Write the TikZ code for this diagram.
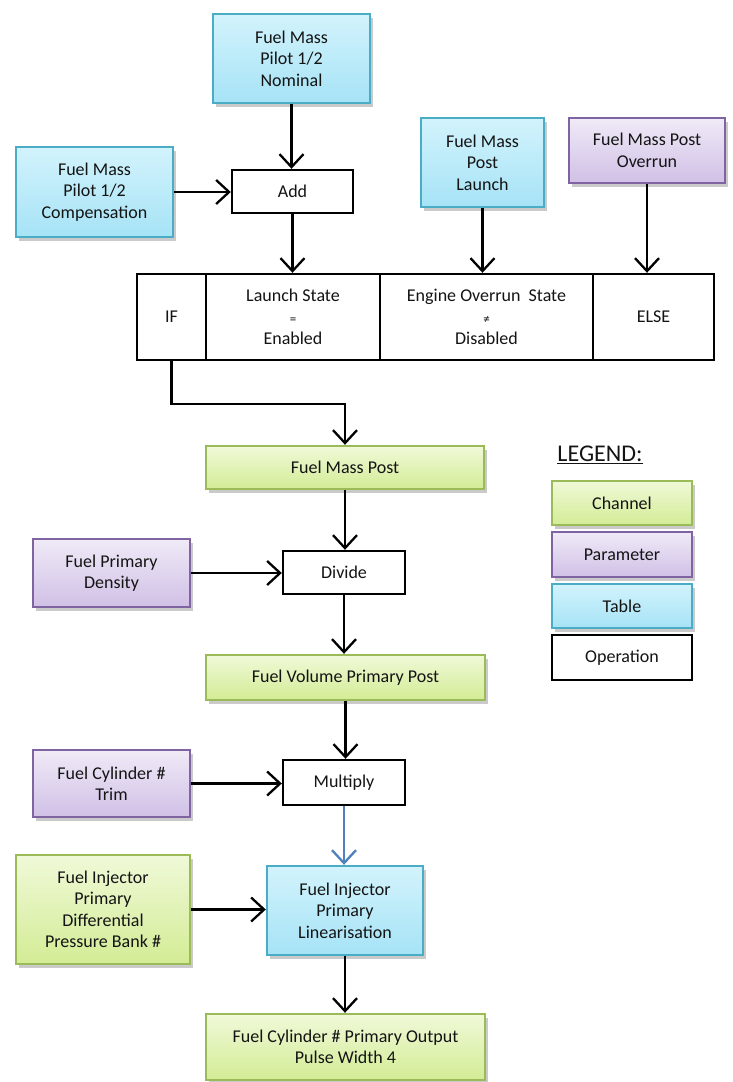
\documentclass[tikz,border=0pt]{standalone}
\usepackage{fontspec}
\setmainfont{Carlito}
\usetikzlibrary{arrows.meta,shadows}
\definecolor{tblb}{HTML}{4BACC6}
\definecolor{tbltop}{HTML}{D2F3FC}
\definecolor{tblbot}{HTML}{A6E3F6}
\definecolor{parb}{HTML}{8064A2}
\definecolor{partop}{HTML}{F0EAF7}
\definecolor{parbot}{HTML}{D0C0E6}
\definecolor{chb}{HTML}{9BBB59}
\definecolor{chtop}{HTML}{F0F9D8}
\definecolor{chbot}{HTML}{D3EC95}
\definecolor{txt}{HTML}{141414}
\definecolor{bluearr}{HTML}{4F81BD}
\tikzset{
  base/.style={align=center, inner sep=0pt, text=txt, font=\fontsize{18}{21.5}\selectfont},
  sz/.style 2 args={minimum width=#1pt, minimum height=#2pt},
  shad/.style={drop shadow={shadow xshift=2.5pt, shadow yshift=-3.5pt, opacity=0.35, fill=black!60}},
  tblbox/.style={base, shad, draw=tblb, line width=2.4pt, top color=tbltop, bottom color=tblbot},
  parbox/.style={base, shad, draw=parb, line width=2.4pt, top color=partop, bottom color=parbot},
  chbox/.style={base, shad, draw=chb, line width=2.4pt, top color=chtop, bottom color=chbot},
  opbox/.style={base, draw=black, line width=2.4pt, fill=white},
  cell/.style={base, draw=black, line width=2.4pt, fill=white},
  arr/.style={line width=2.3pt, -{Straight Barb[length=13pt,width=24pt,line width=2.3pt]}},
}
\newcommand{\smallsym}[1]{{\fontsize{13}{21.5}\selectfont #1}}
\begin{document}
\begin{tikzpicture}[x=1pt,y=-1pt]
\useasboundingbox (0,0) rectangle (733,1082);
% top inputs
\node[tblbox, sz={157}{89}] (nom) at (291.5,58.5) {Fuel Mass\\Pilot 1/2\\Nominal};
\node[tblbox, sz={157}{90}] (comp) at (94.5,192) {Fuel Mass\\Pilot 1/2\\Compensation};
\node[opbox, sz={121}{43}] (add) at (292.5,191.5) {Add};
\node[tblbox, sz={123}{89}] (launch) at (482.5,162.5) {Fuel Mass\\Post\\Launch};
\node[parbox, sz={156}{65}] (ovr) at (647,150.5) {Fuel Mass Post\\Overrun};
% condition table
\node[cell, sz={69}{86}] (ifc) at (171.5,317) {IF};
\node[cell, sz={174}{86}] (lc) at (293,317) {Launch State\\\smallsym{=}\\Enabled};
\node[cell, sz={213}{86}] (oc) at (486.5,317) {Engine Overrun\ \ State\\\smallsym{≠}\\Disabled};
\node[cell, sz={121}{86}] (ec) at (653.5,317) {ELSE};
% main chain
\node[chbox, sz={278}{43}] (fmp) at (345,467.5) {Fuel Mass Post};
\node[parbox, sz={157}{68}] (dens) at (111.5,573) {Fuel Primary\\Density};
\node[opbox, sz={122}{43}] (div) at (344,572.5) {Divide};
\node[chbox, sz={279}{45}] (fvpp) at (345.5,677.5) {Fuel Volume Primary Post};
\node[parbox, sz={157}{67}] (trim) at (111.5,783.5) {Fuel Cylinder \#\\Trim};
\node[opbox, sz={122}{45}] (mul) at (344,782.5) {Multiply};
\node[chbox, sz={174}{109}] (dp) at (103,909.5) {Fuel Injector\\Primary\\Differential\\Pressure Bank \#};
\node[tblbox, sz={156}{89}] (lin) at (345,910.5) {Fuel Injector\\Primary\\Linearisation};
\node[chbox, sz={279}{66}] (out) at (345.5,1047) {Fuel Cylinder \# Primary Output\\Pulse Width 4};
% legend
\node[base, font=\fontsize{24}{28}\selectfont] (lgt) at (600,455) {\underline{LEGEND:}};
\node[chbox, sz={140}{44}] (lg1) at (622,503) {Channel};
\node[parbox, sz={140}{45}] (lg2) at (622,554.5) {Parameter};
\node[tblbox, sz={140}{44}] (lg3) at (622,606) {Table};
\node[opbox, sz={140}{45}] (lg4) at (622,657.5) {Operation};
% connectors
\draw[arr] (nom.south) -- (nom.south |- add.north);
\draw[arr] (comp.east) -- (comp.east -| add.west);
\draw[arr] (add.south) -- (add.south |- lc.north);
\draw[arr] (launch.south) -- (launch.south |- oc.north);
\draw[arr] (ovr.south) -- (ovr.south |- ec.north);
\coordinate (ifout) at (ifc.south);
\draw[arr] (ifout) -- ++(0,43) -| (fmp.north);
\draw[arr] (fmp.south) -- (fmp.south |- div.north);
\draw[arr] (dens.east) -- (dens.east -| div.west);
\draw[arr] (div.south) -- (div.south |- fvpp.north);
\draw[arr] (fvpp.south) -- (fvpp.south |- mul.north);
\draw[arr] (trim.east) -- (trim.east -| mul.west);
\draw[arr, draw=bluearr] (mul.south) -- (mul.south |- lin.north);
\draw[arr] (dp.east) -- (dp.east -| lin.west);
\draw[arr] (lin.south) -- (lin.south |- out.north);
\end{tikzpicture}
\end{document}
